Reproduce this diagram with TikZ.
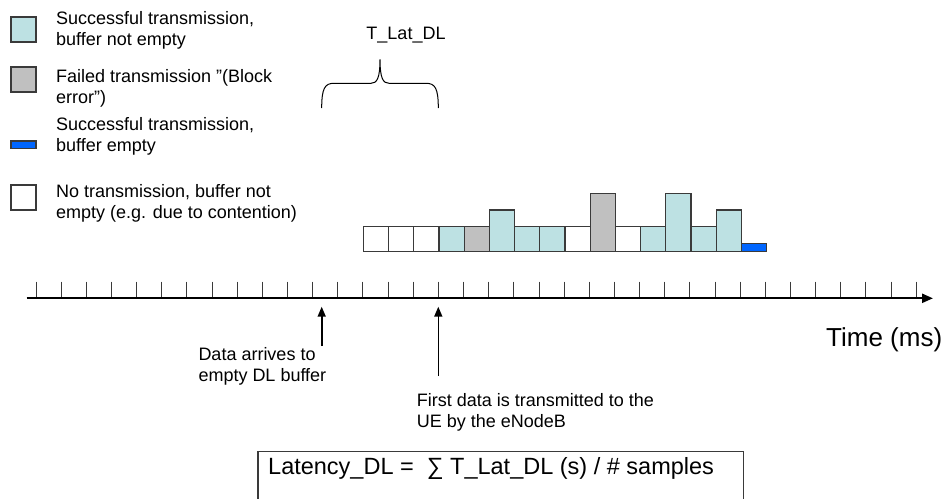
\documentclass[tikz,border=0pt]{standalone}
\usepackage{fontspec}
\setmainfont{Liberation Sans}
\usetikzlibrary{arrows.meta}
\definecolor{sentcyan}{HTML}{BDE1E3}
\definecolor{failgray}{HTML}{C0C0C0}
\definecolor{lastblue}{HTML}{0066FF}
\definecolor{edgegray}{HTML}{3A3A3A}

\begin{document}
\begin{tikzpicture}[x=1pt,y=-1pt,
    slot/.style={draw=edgegray,line width=1.2pt},
    lbl/.style={inner sep=0pt,align=left,anchor=west,font=\fontsize{18}{21}\selectfont},
    pointer/.style={line width=1.6pt,-{Triangle[length=10pt,width=8pt]}}]
  \useasboundingbox (0,0) rectangle (945,498);
  % legend
  \draw[slot,fill=sentcyan] (11,17) rectangle (36,42);
  \draw[slot,fill=failgray] (11,67) rectangle (36,92);
  \draw[slot,fill=lastblue] (11,141) rectangle (36,148.3);
  \draw[slot,fill=white] (11,185) rectangle (36,210);
  \draw
    (56,30.5) node[lbl] (key1){Successful transmission,\\buffer not empty}
    (56,88) node[lbl] (key2){Failed transmission ”(Block\\error”)}
    (56,136.5) node[lbl] (key3){Successful transmission,\\buffer empty}
    (56,203.5) node[lbl] (key4){No transmission, buffer not\\empty (e.g. due to contention)};
  % brace over the latency
  \draw[line width=1pt] (321.7,108) .. controls (321.7,88) and (325,83.3) .. (334,83.3)
    -- (371,83.3) .. controls (377,83.3) and (380,78) .. (380,59.3)
    .. controls (380,78) and (383,83.3) .. (389,83.3)
    -- (426,83.3) .. controls (435,83.3) and (438.3,88) .. (438.3,108);
  \node[font=\fontsize{18}{21}\selectfont] (tlat) at (406,35) {T\_Lat\_DL};
  % transmission slots
  \draw[slot,fill=white] (363.3,251.7) rectangle ++(25.2,-25);
  \draw[slot,fill=white] (388.5,251.7) rectangle ++(25.2,-25);
  \draw[slot,fill=white] (413.7,251.7) rectangle ++(25.2,-25);
  \draw[slot,fill=sentcyan] (438.9,251.7) rectangle ++(25.2,-25);
  \draw[slot,fill=failgray] (464.1,251.7) rectangle ++(25.2,-25);
  \draw[slot,fill=sentcyan] (489.3,251.7) rectangle ++(25.2,-41.7);
  \draw[slot,fill=sentcyan] (514.5,251.7) rectangle ++(25.2,-25);
  \draw[slot,fill=sentcyan] (539.7,251.7) rectangle ++(25.2,-25);
  \draw[slot,fill=white] (564.9,251.7) rectangle ++(25.2,-25);
  \draw[slot,fill=failgray] (590.1,251.7) rectangle ++(25.2,-58.4);
  \draw[slot,fill=white] (615.3,251.7) rectangle ++(25.2,-25);
  \draw[slot,fill=sentcyan] (640.5,251.7) rectangle ++(25.2,-25);
  \draw[slot,fill=sentcyan] (665.7,251.7) rectangle ++(25.2,-58.4);
  \draw[slot,fill=sentcyan] (690.9,251.7) rectangle ++(25.2,-25);
  \draw[slot,fill=sentcyan] (716.1,251.7) rectangle ++(25.2,-41.7);
  \draw[slot,fill=lastblue] (741.3,251.7) rectangle ++(25.2,-8.4);
  % time axis
  \foreach \k in {0,...,35}
    \draw[edgegray,line width=1pt] ({36+25.15*\k},281.7) -- ({36+25.15*\k},298.3);
  \coordinate (axL) at (26.7,298.3);
  \coordinate (axR) at (933,298.3);
  \draw[line width=2.2pt,-{Triangle[length=11pt,width=9pt]}] (axL) -- (axR);
  \node[inner sep=0pt,anchor=west,font=\fontsize{26}{30}\selectfont] (time) at (826,340) {Time (ms)};
  % events
  \coordinate (arrive) at (321.7,306.7);
  \coordinate (arriveEnd) at (321.7,346);
  \coordinate (first) at (438.3,306.7);
  \coordinate (firstEnd) at (438.3,376);
  \draw
    (198.3,366) node[lbl] (arrtxt){Data arrives to\\empty DL buffer}
    (416.7,412.5) node[lbl] (firsttxt){First data is transmitted to the\\UE by the eNodeB};
  \begin{scope}[pointer]
    \draw (arriveEnd) to (arrive);
    \draw (firstEnd) to (first);
  \end{scope}
  % average
  \draw[edgegray,line width=1.2pt] (258,500) -- (258,451.7) -- (743.3,451.7) -- (743.3,500);
  \node[inner sep=0pt,anchor=base west,font=\fontsize{23.5}{28}\selectfont] (latency) at (268,474)
    {Latency\_DL =\ \ ∑ T\_Lat\_DL (s) / \# samples};
\end{tikzpicture}
\end{document}
